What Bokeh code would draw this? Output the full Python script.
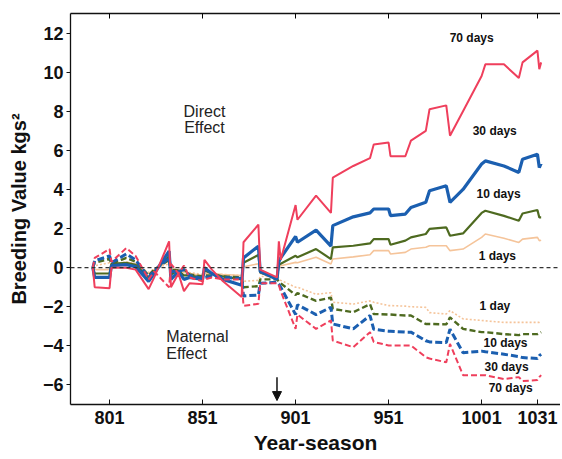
from bokeh.plotting import figure
from bokeh.models import Range1d, FixedTicker, LinearAxis, Span, Arrow, NormalHead
from bokeh.core.properties import value
from bokeh.embed import file_html
from bokeh.resources import INLINE

# Year-season
year_season = [792, 793, 801, 802, 810, 815, 822, 825, 833, 834, 838, 841, 844, 851, 852, 856, 862, 872,
               873, 881, 882, 891, 892, 893, 901, 902, 912, 920, 921, 932, 941, 943, 951, 952, 960, 963,
               971, 973, 982, 984, 991, 1001, 1003, 1013, 1021, 1023, 1031, 1032, 1033]

# Direct effect breeding values (kg s^2)
direct_70 = [0, -1.0, -1.05, 0.0, 0.0, -0.1, -1.1, -0.5, 1.35, -1.0, -0.3, -1.2, -0.8, -0.85, 0.4, -0.1, -0.7, -1.5,
             1.3, 2.2, -0.1, -0.5, 1.35, 0.4, 3.2, 2.45, 3.68, 2.8, 4.6, 5.2, 5.6, 6.3, 6.4, 5.7, 5.7, 6.5,
             7.0, 8.1, 8.3, 6.75, 8.0, 9.8, 10.4, 10.4, 9.7, 10.5, 11.1, 10.15, 10.5]
direct_30 = [0, -0.5, -0.5, 0.1, 0.15, 0.05, -0.7, -0.3, 0.85, -0.6, -0.2, -0.6, -0.5, -0.6, 0.0, -0.3, -0.6, -0.9,
             0.5, 1.1, -0.2, -0.6, 0.3, 0.5, 1.6, 1.3, 1.92, 1.1, 2.15, 2.6, 2.8, 3.0, 3.0, 2.66, 2.74, 3.08,
             3.34, 3.93, 4.19, 3.34, 4.0, 5.3, 5.46, 5.2, 4.87, 5.55, 5.8, 5.12, 5.33]
direct_10 = [0, -0.3, -0.3, 0.2, 0.25, 0.15, -0.5, -0.2, 0.6, -0.35, -0.15, -0.4, -0.4, -0.5, -0.15, -0.3, -0.45, -0.6,
             0.25, 0.65, -0.25, -0.55, 0.15, 0.2, 0.61, 0.53, 0.95, 0.44, 1.04, 1.12, 1.24, 1.46, 1.46, 1.17, 1.38, 1.55,
             1.72, 1.98, 2.06, 1.63, 1.75, 2.8, 2.91, 2.65, 2.4, 2.77, 2.95, 2.57, 2.57]
direct_1 = [0, -0.1, -0.1, 0.2, 0.25, 0.2, -0.3, -0.1, 0.35, -0.2, -0.1, -0.25, -0.3, -0.4, -0.3, -0.3, -0.35, -0.4,
            0.05, 0.2, -0.3, -0.5, 0.05, 0.1, 0.27, 0.25, 0.53, 0.19, 0.44, 0.55, 0.66, 0.87, 0.87, 0.7, 0.78, 0.95,
            1.04, 1.12, 1.12, 0.87, 0.95, 1.55, 1.72, 1.5, 1.29, 1.46, 1.55, 1.38, 1.4]

# Maternal effect breeding values
maternal_70 = [0, 0.5, 0.95, 0.3, 1.0, 0.6, -0.6, -0.2, -1.0, 0.2, -0.3, 0.1, -0.5, -0.7, -0.6, -0.5, -0.6, -0.6,
               -1.95, -1.85, -0.8, -0.8, -0.9, -1.2, -3.13, -2.4, -3.13, -2.7, -3.73, -4.07, -3.3, -3.8, -3.98, -3.98, -3.98, -3.98,
               -4.58, -4.65, -4.84, -3.9, -5.5, -5.5, -5.5, -5.7, -5.6, -5.8, -5.75, -5.6, -5.5]
maternal_30 = [0, 0.35, 0.6, 0.25, 0.7, 0.4, -0.5, -0.15, 0.5, -0.2, -0.2, -0.1, -0.4, -0.55, -0.5, -0.45, -0.5, -0.55,
               -1.45, -1.4, -0.8, -0.75, -0.85, -1.0, -2.4, -1.9, -2.4, -2.03, -2.88, -3.13, -2.45, -3.15, -3.25, -3.25, -3.3, -3.3,
               -3.74, -3.8, -3.83, -3.15, -4.35, -4.27, -4.3, -4.43, -4.55, -4.6, -4.65, -4.5, -4.43]
maternal_10 = [0, 0.25, 0.45, 0.2, 0.5, 0.3, -0.4, -0.1, 0.4, -0.1, -0.15, -0.1, -0.35, -0.45, -0.4, -0.4, -0.45, -0.5,
               -1.0, -0.95, -0.6, -0.6, -0.7, -0.8, -1.4, -1.3, -1.7, -1.53, -2.11, -2.28, -1.87, -2.37, -2.4, -2.4, -2.45, -2.45,
               -2.88, -2.88, -2.9, -2.54, -3.13, -3.3, -3.3, -3.4, -3.45, -3.4, -3.4, -3.35, -3.3]
maternal_1 = [0, 0.1, 0.25, 0.15, 0.3, 0.2, -0.25, -0.05, 0.2, -0.05, -0.1, -0.05, -0.25, -0.35, -0.3, -0.3, -0.35, -0.4,
              -0.7, -0.65, -0.45, -0.45, -0.55, -0.65, -1.0, -1.0, -1.36, -1.28, -1.77, -1.86, -1.7, -1.77, -1.94, -1.94, -1.97, -2.0,
              -2.03, -2.3, -2.37, -2.2, -2.62, -2.7, -2.72, -2.8, -2.8, -2.8, -2.8, -2.8, -2.75]

x_ticks = [801, 851, 901, 951, 1001, 1031]
y_ticks = [-6, -4, -2, 0, 2, 4, 6, 8, 10, 12]

RED = "#ef3f5c"
BLUE = "#1b5fb0"
GREEN = "#4e6a20"
PEACH = "#f5c49a"
FONT = "Liberation Sans"

p = figure(width=560, height=457, output_backend="svg", toolbar_location=None,
           x_range=Range1d(780, 1043.4), y_range=Range1d(-7, 13),
           min_border_left=70, min_border_right=0, min_border_top=13, min_border_bottom=53)
p.outline_line_color = None
p.xgrid.visible = False
p.ygrid.visible = False
p.background_fill_color = "white"

# axes
p.xaxis.ticker = FixedTicker(ticks=x_ticks)
p.yaxis.ticker = FixedTicker(ticks=y_ticks)
for ax in (p.xaxis[0], p.yaxis[0]):
    ax.major_label_text_font = FONT
    ax.major_label_text_font_style = "bold"
    ax.major_label_text_font_size = "18px"
    ax.major_label_text_color = "#111111"
    ax.axis_label_text_font = FONT
    ax.axis_label_text_font_style = "bold"
    ax.axis_label_text_color = "#111111"
    ax.minor_tick_line_color = None
    ax.axis_line_color = "#111111"
    ax.axis_line_width = 1.3
    ax.major_tick_line_color = "#111111"
p.xaxis.axis_label = "Year-season"
p.xaxis.axis_label_text_font_size = "21px"
p.xaxis.major_tick_in = 5
p.xaxis.major_tick_out = 0
p.xaxis.major_label_standoff = 6
p.xaxis.axis_label_standoff = 4
p.yaxis.axis_label = "Breeding Value kgs²"
p.yaxis.axis_label_text_font_size = "20px"
p.yaxis.major_tick_in = 0
p.yaxis.major_tick_out = 4
p.yaxis.major_label_standoff = 3
p.yaxis.axis_label_standoff = 10

top = LinearAxis(ticker=FixedTicker(ticks=x_ticks), major_label_overrides={t: "" for t in x_ticks},
                 major_tick_in=5, major_tick_out=0, minor_tick_line_color=None,
                 axis_line_color="#111111", axis_line_width=1.3, major_label_standoff=0)
p.add_layout(top, "above")

p.add_layout(Span(location=0, dimension="width", line_color="#333333", line_dash="4 3", line_width=1.2))

# series
p.line(year_season, maternal_1, line_color=PEACH, line_width=1.6, line_dash="2 2")
p.line(year_season, direct_1, line_color=PEACH, line_width=1.6)
p.line(year_season, maternal_10, line_color=GREEN, line_width=2.4, line_dash="6 3")
p.line(year_season, direct_10, line_color=GREEN, line_width=2.2)
p.line(year_season, maternal_30, line_color=BLUE, line_width=3.0, line_dash="7 3")
p.line(year_season, direct_30, line_color=BLUE, line_width=3.2)
p.line(year_season, maternal_70, line_color=RED, line_width=2.0, line_dash="6 3")
p.line(year_season, direct_70, line_color=RED, line_width=2.0)

# annotations
p.text(x=[852, 852], y=[8.0, 7.15], text=["Direct", "Effect"], text_font=value(FONT),
       text_font_size="16px", text_align="center", text_baseline="middle", text_color="#222222")
p.text(x=[831.5, 831.5], y=[-3.52, -4.39], text=["Maternal", "Effect"], text_font=value(FONT),
       text_font_size="16px", text_align="left", text_baseline="middle", text_color="#222222")
p.text(x=[983.8, 996.2, 998.3, 999.4, 999.9, 1002.0, 1002.6, 1004.8],
       y=[11.75, 7.0, 3.75, 0.61, -1.94, -3.86, -5.06, -6.18],
       text=["70 days", "30 days", "10 days", "1 days", "1 day", "10 days", "30 days", "70 days"],
       text_font=value(FONT), text_font_style="bold", text_font_size="12px",
       text_align="left", text_baseline="middle", text_color="#111111")

p.add_layout(Arrow(end=NormalHead(size=9, fill_color="#111111", line_color="#111111"),
                   x_start=891, y_start=-5.6, x_end=891, y_end=-6.8,
                   line_color="#111111", line_width=1.5))

open("out.html", "w").write(file_html(p, INLINE))
